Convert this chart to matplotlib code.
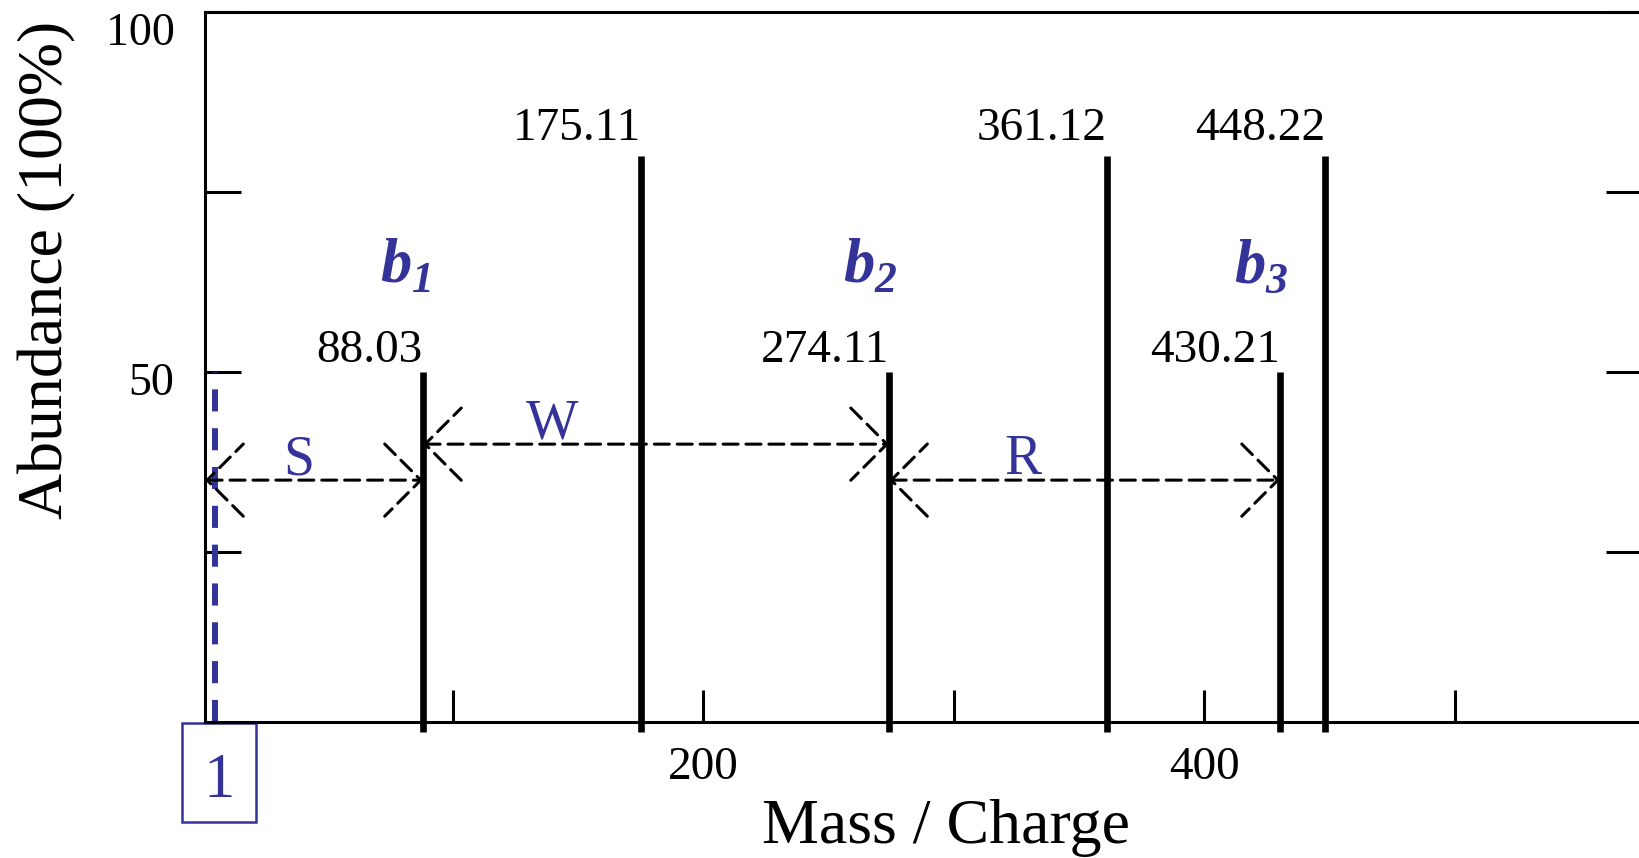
import matplotlib.pyplot as plt
from matplotlib.patches import Rectangle
from matplotlib.transforms import ScaledTranslation

plt.rcParams['font.family'] = ['Liberation Serif', 'DejaVu Serif']
plt.rcParams['mathtext.fontset'] = 'custom'
plt.rcParams['mathtext.rm'] = 'Liberation Serif'
plt.rcParams['mathtext.bf'] = 'Liberation Serif:italic:bold'

BLUE = '#333399'

# spectrum peaks (m/z, relative abundance)
peak_mz = [88.03, 175.11, 274.11, 361.12, 430.21, 448.22]
peak_height = [50, 80, 50, 80, 50, 80]

# b ions
b_ions = ['1', '2', '3']
b_mz = [88.03, 274.11, 430.21]

# residue steps between b ions
residues = ['S', 'W', 'R']
res_start = [1.0, 88.03, 274.11]
res_end = [88.03, 274.11, 430.21]
res_level = [35, 40, 35]

# start marker
start_mz = 5
start_height = 50
start_label = '1'

x_ticks = [100, 200, 300, 400, 500]
x_ticklabels = ['', '200', '', '400', '']
y_ticks = [25, 50, 75, 100]
y_ticklabels = ['', '50', '', '100']

fig = plt.figure(figsize=(16.4, 8.58), dpi=100)
ax = fig.add_axes([0.125, 0.1589, 0.8762, 0.8266])
ax.set_xlim(1, 574.7)
ax.set_ylim(1.43, 100)
for sp in ax.spines.values():
    sp.set_linewidth(2.2)

# peaks
ax.vlines(peak_mz, 0, peak_height, colors='black', lw=4.8, capstyle='butt', clip_on=False)
for mz, h in zip(peak_mz, peak_height):
    off = 12 if h > 60 else 7
    ax.annotate(f'{mz:.2f}', (mz, h), xytext=(0, off), textcoords='offset points',
                ha='right', va='baseline', fontsize=34)

# b ion labels
for n, mz in zip(b_ions, b_mz):
    ax.annotate(r'$\mathbf{b}_{\mathbf{%s}}$' % n, (mz, 62.4), xytext=(6, 0),
                textcoords='offset points', ha='right', va='baseline',
                fontsize=45, color=BLUE)

# residue arrows
label_frac = [0.43, 0.277, 0.343]
for lab, a, b, y, fr in zip(residues, res_start, res_end, res_level, label_frac):
    ax.annotate('', xy=(b, y), xytext=(a, y),
                arrowprops=dict(arrowstyle='<->,head_length=26,head_width=26',
                                mutation_scale=1, lw=2.2, ls=(0, (4.9, 2.6)),
                                color='black', shrinkA=0, shrinkB=0))
    ax.text(a + fr * (b - a), y + 0.8, lab, ha='center', va='baseline',
            fontsize=40, color=BLUE)

# start marker line and box
ax.plot([start_mz, start_mz], [ax.get_ylim()[0], start_height], color=BLUE,
        lw=4.3, ls=(0, (3.7, 2.8)), solid_capstyle='butt')
ax.add_patch(Rectangle((-0.016, -0.1414), 0.0515, 0.1396, transform=ax.transAxes,
                       fill=False, ec=BLUE, lw=1.8, clip_on=False))
ax.text(0.0097, -0.1062, start_label, transform=ax.transAxes, ha='center',
        va='baseline', fontsize=45, color=BLUE)

# ticks
ax.set_xticks(x_ticks, x_ticklabels)
ax.set_yticks(y_ticks, y_ticklabels)
ax.tick_params(axis='x', direction='in', length=23, width=2.2, pad=18, labelsize=34)
ax.tick_params(axis='y', direction='in', length=26, width=2.2, pad=22, labelsize=33,
               right=True)
for t in ax.get_yticklabels():
    t.set_va('top')
# the "50" label sits a little higher in the original
lab50 = ax.get_yticklabels()[1]
lab50.set_transform(lab50.get_transform() + ScaledTranslation(0, 7 / 72, fig.dpi_scale_trans))

ax.text(0.5159, -0.171, 'Mass / Charge', transform=ax.transAxes, ha='center',
        va='baseline', fontsize=46)
ax.text(-0.1100, 0.6376, 'Abundance (100%)', transform=ax.transAxes, rotation=90,
        ha='center', va='center', fontsize=46)

fig.savefig('out.png', dpi=100)
